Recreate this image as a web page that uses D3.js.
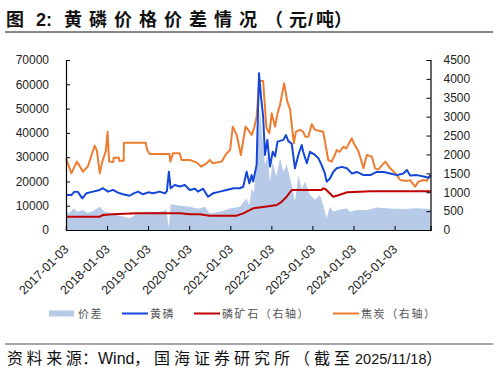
<!DOCTYPE html>
<html lang="zh-cn">
<head>
<meta charset="utf-8">
<title>黄磷价格价差情况</title>
<script src="https://d3js.org/d3.v7.min.js"></script>
<style>
  body { margin: 0; background: #fff; }
  #chart text { font-family: "Liberation Sans", Arial, sans-serif; fill: #222; }
  #chart .cn { font-family: "Noto Sans CJK SC", sans-serif; }
</style>
</head>
<body>
<div id="chart"></div>
<script>
"use strict"

// 价差 (左轴)
var spread = [
  ["2017-01-03", 7500], ["2017-02-01", 7000], ["2017-03-10", 8900], ["2017-04-15", 7500],
  ["2017-06-01", 8200], ["2017-07-15", 7000], ["2017-09-01", 7800], ["2017-10-30", 9600],
  ["2017-12-10", 7500], ["2018-02-25", 6900], ["2018-04-15", 6000], ["2018-06-01", 5500],
  ["2018-07-22", 4800], ["2018-08-20", 5500], ["2018-09-21", 6900], ["2018-12-01", 7500],
  ["2019-02-17", 7400], ["2019-04-16", 7500], ["2019-06-15", 8200], ["2019-07-07", 700],
  ["2019-07-22", 10600], ["2019-10-12", 10000], ["2020-01-09", 9600], ["2020-03-01", 9000],
  ["2020-04-07", 8900], ["2020-05-20", 9600], ["2020-07-04", 6900], ["2020-10-03", 7500],
  ["2021-01-01", 8900], ["2021-03-28", 9600], ["2021-05-28", 13000], ["2021-06-21", 10000],
  ["2021-07-12", 17200], ["2021-08-01", 15000], ["2021-09-09", 37800], ["2021-09-24", 50100],
  ["2021-10-09", 40500], ["2021-11-07", 26800], ["2021-11-28", 30900], ["2021-12-22", 19900],
  ["2022-01-15", 28100], ["2022-02-15", 22000], ["2022-03-21", 29500], ["2022-04-21", 24000],
  ["2022-05-19", 27000], ["2022-07-03", 18500], ["2022-08-01", 11700], ["2022-08-31", 22600],
  ["2022-09-30", 17000], ["2022-10-29", 19900], ["2022-12-13", 14400], ["2023-01-27", 12500],
  ["2023-03-10", 14400], ["2023-04-09", 10300], ["2023-05-09", 4800], ["2023-06-08", 9600],
  ["2023-07-07", 7600], ["2023-09-21", 8500], ["2023-11-05", 8900], ["2023-12-04", 7500],
  ["2024-02-03", 8200], ["2024-05-01", 8200], ["2024-07-28", 9300], ["2024-11-25", 8900],
  ["2025-03-22", 8600], ["2025-07-19", 9000], ["2025-11-18", 8600]
];

// 黄磷 (左轴)
var phosphorus = [
  ["2017-01-03", 14400], ["2017-02-20", 14400], ["2017-03-20", 15800], ["2017-04-20", 15600],
  ["2017-05-28", 13000], ["2017-07-03", 15100], ["2017-09-01", 15800], ["2017-10-30", 16500],
  ["2017-11-28", 17200], ["2018-01-12", 15800], ["2018-02-25", 16500], ["2018-04-10", 15400],
  ["2018-05-24", 14700], ["2018-07-22", 14100], ["2018-08-28", 15100], ["2018-10-06", 15800],
  ["2018-11-19", 14700], ["2019-01-03", 15500], ["2019-02-17", 15100], ["2019-04-16", 15800],
  ["2019-06-01", 15100], ["2019-06-19", 16000], ["2019-07-07", 24000], ["2019-07-22", 17200],
  ["2019-08-28", 18500], ["2019-10-12", 17900], ["2019-11-25", 18500], ["2020-01-09", 16500],
  ["2020-02-24", 17000], ["2020-03-22", 15800], ["2020-05-06", 17000], ["2020-06-19", 13700],
  ["2020-08-01", 15100], ["2020-10-03", 15800], ["2020-12-01", 16500], ["2021-02-01", 17200],
  ["2021-03-28", 17200], ["2021-04-28", 17800], ["2021-05-28", 24000], ["2021-06-21", 19200],
  ["2021-07-12", 22600], ["2021-07-25", 20000], ["2021-08-25", 26800], ["2021-09-15", 64500],
  ["2021-10-03", 54900], ["2021-10-22", 46700], ["2021-11-07", 30900], ["2021-11-28", 37100],
  ["2021-12-22", 26100], ["2022-01-15", 32200], ["2022-02-05", 30300], ["2022-02-27", 36400],
  ["2022-04-21", 37100], ["2022-05-13", 39100], ["2022-06-03", 36600], ["2022-07-03", 35500],
  ["2022-08-01", 25400], ["2022-08-31", 30900], ["2022-09-30", 35000], ["2022-10-13", 32200],
  ["2022-11-14", 27500], ["2022-12-13", 32200], ["2023-01-27", 30900], ["2023-02-25", 29600],
  ["2023-03-25", 26800], ["2023-04-24", 23300], ["2023-05-09", 19900], ["2023-06-08", 21200],
  ["2023-07-07", 23900], ["2023-08-07", 25400], ["2023-09-21", 26000], ["2023-11-05", 25400],
  ["2023-12-19", 23300], ["2024-02-03", 23900], ["2024-04-01", 22600], ["2024-06-01", 22600],
  ["2024-07-28", 23900], ["2024-09-27", 23900], ["2024-11-25", 23300], ["2025-01-24", 22600],
  ["2025-03-22", 23300], ["2025-04-22", 24700], ["2025-05-21", 22400], ["2025-07-19", 22600],
  ["2025-09-18", 22000], ["2025-11-01", 21500], ["2025-11-18", 22600]
];

// 磷矿石 (右轴)
var rock = [
  ["2017-01-03", 353], ["2017-10-30", 353], ["2017-11-28", 397], ["2018-02-25", 420],
  ["2018-09-21", 441], ["2019-10-12", 441], ["2020-01-09", 415], ["2020-04-07", 415],
  ["2020-07-04", 380], ["2021-03-01", 380], ["2021-04-28", 441], ["2021-07-25", 573],
  ["2021-11-07", 618], ["2022-02-21", 662], ["2022-04-06", 750], ["2022-05-19", 882],
  ["2022-07-03", 1059], ["2023-03-25", 1059], ["2023-04-09", 1103], ["2023-05-01", 1080],
  ["2023-07-07", 882], ["2023-08-21", 920], ["2023-11-05", 997], ["2024-03-02", 1015],
  ["2024-06-01", 1025], ["2025-11-18", 1025]
];

// 焦炭 (右轴)
var coke = [
  ["2017-01-03", 1900], ["2017-02-20", 1500], ["2017-04-10", 1810], ["2017-06-03", 1545],
  ["2017-07-16", 1680], ["2017-09-15", 2230], ["2017-10-05", 2100], ["2017-10-30", 1500],
  ["2017-11-22", 1810], ["2017-12-22", 2073], ["2018-01-08", 2600], ["2018-01-21", 1810],
  ["2018-02-28", 1800], ["2018-03-02", 1915], ["2018-04-18", 1915], ["2018-04-22", 1830],
  ["2018-05-31", 1830], ["2018-06-02", 2310], ["2018-12-13", 2310], ["2018-12-25", 2117],
  ["2019-01-18", 2010], ["2019-07-13", 2010], ["2019-07-19", 1810], ["2019-08-13", 2030],
  ["2019-10-12", 2030], ["2019-10-27", 1853], ["2020-01-09", 1853], ["2020-03-09", 1790],
  ["2020-04-20", 1676], ["2020-06-06", 1765], ["2020-07-04", 1853], ["2020-08-01", 1765],
  ["2020-10-18", 1810], ["2020-12-01", 2030], ["2021-01-01", 2117], ["2021-01-25", 2735],
  ["2021-03-01", 2515], ["2021-04-07", 1985], ["2021-05-18", 2735], ["2021-06-12", 2647],
  ["2021-07-12", 2515], ["2021-08-01", 2680], ["2021-08-25", 3000], ["2021-09-18", 3944],
  ["2021-10-22", 3944], ["2021-11-20", 2700], ["2021-12-16", 2559], ["2022-01-06", 3088],
  ["2022-02-05", 2735], ["2022-02-27", 3088], ["2022-03-21", 3309], ["2022-04-27", 3883],
  ["2022-05-25", 3396], ["2022-06-18", 3200], ["2022-07-22", 2295], ["2022-08-10", 2603],
  ["2022-09-15", 2650], ["2022-10-13", 2600], ["2022-11-01", 2470], ["2022-11-28", 2470],
  ["2022-12-28", 2797], ["2023-01-27", 2650], ["2023-04-09", 2603], ["2023-05-24", 1853],
  ["2023-06-23", 1810], ["2023-07-22", 1985], ["2023-08-07", 2117], ["2023-09-01", 2070],
  ["2023-10-06", 2205], ["2023-11-01", 2160], ["2023-12-19", 2427], ["2024-01-05", 2300],
  ["2024-02-18", 2073], ["2024-04-01", 1633], ["2024-05-01", 1985], ["2024-06-15", 1942],
  ["2024-07-13", 1633], ["2024-08-10", 1600], ["2024-10-12", 1810], ["2024-11-25", 1633],
  ["2025-01-09", 1500], ["2025-02-23", 1324], ["2025-04-22", 1300], ["2025-05-21", 1320],
  ["2025-07-04", 1147], ["2025-08-03", 1280], ["2025-09-18", 1324], ["2025-10-15", 1300],
  ["2025-11-18", 1456]
];

var xTicks = ["2017-01-03", "2018-01-03", "2019-01-03", "2020-01-03", "2021-01-03",
              "2022-01-03", "2023-01-03", "2024-01-03", "2025-01-03"];
var leftTicks = [0, 10000, 20000, 30000, 40000, 50000, 60000, 70000];
var rightTicks = [0, 500, 1000, 1500, 2000, 2500, 3000, 3500, 4000, 4500];

var parse = d3.timeParse("%Y-%m-%d");

var W = 498, H = 372;
var plotL = 66, plotR = 430.5, plotT = 60, plotB = 230;

var svg = d3.select("#chart").append("svg")
  .attr("width", W).attr("height", H);

svg.append("rect").attr("width", W).attr("height", H).attr("fill", "#fff");

// title
function titlePart(xp, txt, cls, spacing) {
  var t = svg.append("text").attr("class", cls)
    .attr("x", xp).attr("y", 25.5)
    .style("font-size", "18px").style("font-weight", "bold").style("fill", "#111")
    .text(txt);
  if (spacing) t.style("letter-spacing", spacing + "px");
}
titlePart(6, "图", "cn", 0);
titlePart(36, "2:", "", 0);
titlePart(64, "黄磷价格价差情况", "cn", 7);
titlePart(265, "（", "cn", 0);
titlePart(289, "元", "cn", 0);
titlePart(308, "/", "", 0);
titlePart(316, "吨）", "cn", 0);

svg.append("line").attr("x1", 5).attr("x2", 493).attr("y1", 32).attr("y2", 32)
  .attr("stroke", "#888").attr("stroke-width", 1.8);

// scales
var x = d3.scaleTime()
  .domain([parse("2017-01-03"), parse("2025-11-18")])
  .range([plotL, plotR]);
var yL = d3.scaleLinear().domain([0, 70000]).range([plotB, plotT]);
var yR = d3.scaleLinear().domain([0, 4500]).range([plotB, plotT]);

// area 价差
svg.append("path")
  .datum(spread)
  .attr("fill", "#b7cae8")
  .attr("d", d3.area()
    .x(d => x(parse(d[0])))
    .y0(yL(0))
    .y1(d => yL(d[1])));

function drawLine(data, scale, color) {
  svg.append("path")
    .datum(data)
    .attr("fill", "none")
    .attr("stroke", color)
    .attr("stroke-width", 2)
    .attr("stroke-linejoin", "round")
    .attr("d", d3.line()
      .x(d => x(parse(d[0])))
      .y(d => scale(d[1])));
}

drawLine(rock, yR, "#c00000");
drawLine(coke, yR, "#ed7d31");
drawLine(phosphorus, yL, "#1447d8");

// axes
var axL = svg.append("g")
  .attr("transform", "translate(" + plotL + ",0)")
  .call(d3.axisLeft(yL).tickValues(leftTicks).tickSize(-4).tickPadding(17).tickFormat(d3.format("d")));
var axR = svg.append("g")
  .attr("transform", "translate(" + plotR + ",0)")
  .call(d3.axisRight(yR).tickValues(rightTicks).tickSize(-4).tickPadding(13).tickFormat(d3.format("d")));
var axB = svg.append("g")
  .attr("transform", "translate(0," + plotB + ")")
  .call(d3.axisBottom(x).tickValues(xTicks.map(parse)).tickSize(-4).tickFormat(d3.timeFormat("%Y-%m-%d")));

[axL, axR, axB].forEach(function(g) {
  g.select(".domain").attr("stroke", "#000").attr("stroke-width", 1.2);
  g.selectAll(".tick line").attr("stroke", "#000");
  g.selectAll("text").style("font-size", "12px").style("fill", "#222")
    .style("font-family", "Liberation Sans, Arial, sans-serif");
});

axB.selectAll("text")
  .style("font-size", "12.5px")
  .attr("text-anchor", "end")
  .attr("dy", null)
  .attr("y", 0)
  .attr("transform", "translate(3,20) rotate(-45)");

// legend
var legY = 313.5;
svg.append("rect").attr("x", 49).attr("y", legY - 3).attr("width", 25).attr("height", 6)
  .attr("fill", "#b7cae8");
var legLines = [
  { x: 122, color: "#1447d8" },
  { x: 194, color: "#c00000" },
  { x: 333, color: "#ed7d31" }
];
legLines.forEach(function(l) {
  svg.append("line").attr("x1", l.x).attr("x2", l.x + 26)
    .attr("y1", legY).attr("y2", legY)
    .attr("stroke", l.color).attr("stroke-width", 2);
});
var legText = [
  { x: 78, t: "价差" },
  { x: 150, t: "黄磷" },
  { x: 222, t: "磷矿石（右轴）" },
  { x: 361, t: "焦炭（右轴）" }
];
legText.forEach(function(l) {
  svg.append("text").attr("class", "cn")
    .attr("x", l.x).attr("y", legY + 4)
    .style("font-size", "11px").style("fill", "#555").style("letter-spacing", "1.6px")
    .text(l.t);
});

// source
svg.append("line").attr("x1", 5).attr("x2", 493).attr("y1", 344).attr("y2", 344)
  .attr("stroke", "#888").attr("stroke-width", 1.5);

var src = svg.append("text").attr("y", 364)
  .style("font-size", "16px").style("fill", "#111");
src.append("tspan").attr("class", "cn").attr("x", 7).style("letter-spacing", "3.6px").text("资料来");
src.append("tspan").attr("class", "cn").attr("x", 65.8).text("源");
src.append("tspan").attr("class", "cn").attr("x", 82).text("：");
src.append("tspan").attr("x", 98).style("font-family", "Liberation Sans, Arial, sans-serif").text("Wind");
src.append("tspan").attr("class", "cn").attr("x", 134).style("letter-spacing", "4px").text("，国海证券研究所（截");
src.append("tspan").attr("class", "cn").attr("x", 334).text("至");
src.append("tspan").attr("x", 355).style("font-family", "Liberation Sans, Arial, sans-serif")
  .style("font-size", "14.5px").text("2025/11/18");
src.append("tspan").attr("class", "cn").attr("x", 426).text("）");
</script>
</body>
</html>
